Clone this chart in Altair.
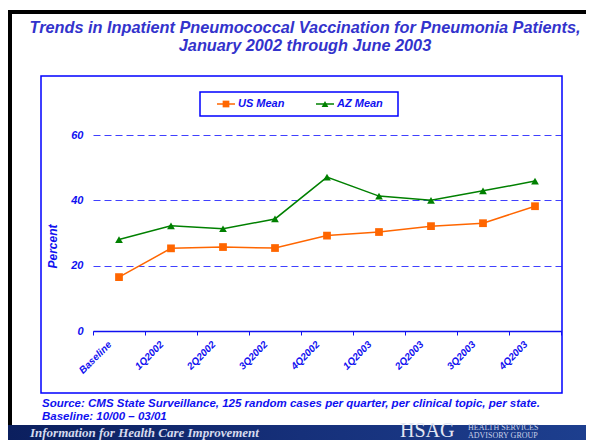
import altair as alt
import pandas as pd

periods = ["Baseline", "1Q2002", "2Q2002", "3Q2002", "4Q2002", "1Q2003", "2Q2003", "3Q2003", "4Q2003"]
series_names = ["US Mean", "AZ Mean"]
us_mean = [16.5, 25.3, 25.7, 25.4, 29.2, 30.3, 32.1, 33.0, 38.2]
az_mean = [28.0, 32.2, 31.3, 34.3, 47.1, 41.3, 40.0, 42.9, 45.9]
y_ticks = [0, 20, 40, 60]
title_lines = ["Trends in Inpatient Pneumococcal Vaccination for Pneumonia Patients,",
               "January 2002 through June 2003"]
source_lines = ["Source: CMS State Surveillance, 125 random cases per quarter, per clinical topic, per state.",
                "Baseline: 10/00 \u2013 03/01"]

colors = ["#ff6600", "#008000"]
shapes = ["square", "triangle-up"]
BLUE = "#1010f0"
TITLE_BLUE = "#3333cc"

df = pd.DataFrame({
    "period": periods * 2,
    "series": [series_names[0]] * len(periods) + [series_names[1]] * len(periods),
    "value": us_mean + az_mean,
})

one = pd.DataFrame({"a": [0]})

x_scale = alt.Scale(type="band", paddingInner=0, paddingOuter=0)
y_scale = alt.Scale(domain=[0, 60], nice=False, zero=True)

x_axis = alt.Axis(title=None, labelAngle=-45, labelAlign="right", labelBaseline="top",
                  labelFont="Liberation Sans", labelFontSize=10, labelFontStyle="italic",
                  labelFontWeight="bold", labelColor=BLUE, labelOffset=-13, labelPadding=4,
                  tickBand="extent", tickSize=4, tickColor=BLUE, domainColor=BLUE,
                  domainWidth=1.5, grid=False, zindex=1)
y_axis = alt.Axis(values=y_ticks, title="Percent", titleFont="Liberation Sans",
                  titleFontSize=12, titleFontStyle="italic", titleFontWeight="bold",
                  titleColor=BLUE, titleAngle=-90, titleX=-41, titleY=111,
                  titleAlign="center", titleBaseline="middle",
                  labelFont="Liberation Sans", labelFontSize=11, labelFontStyle="italic",
                  labelFontWeight="bold", labelColor=BLUE, labelPadding=10,
                  ticks=False, domain=False, grid=True, gridColor="#4040ff",
                  gridOpacity=1, gridDash=[7, 4], gridWidth=1.2, zindex=0)

x_enc = alt.X("period:N", sort=periods, scale=x_scale, axis=x_axis)
y_enc = alt.Y("value:Q", scale=y_scale, axis=y_axis)
color_enc = alt.Color("series:N", scale=alt.Scale(domain=series_names, range=colors), legend=None)
shape_enc = alt.Shape("series:N", scale=alt.Scale(domain=series_names, range=shapes), legend=None)

# slide border
border = alt.Chart(one).mark_rect(fill=None, stroke="black", strokeWidth=4).encode(
    x=alt.value(-83), x2=alt.value(520), y=alt.value(-123), y2=alt.value(300))

# chart frame
frame = alt.Chart(one).mark_rect(fill=None, stroke="#0000ff", strokeWidth=1.5).encode(
    x=alt.value(-52), x2=alt.value(469), y=alt.value(-59), y2=alt.value(258))

lines = alt.Chart(df).mark_line(strokeWidth=1.5).encode(x=x_enc, y=y_enc, color=color_enc, detail="series:N")
points = alt.Chart(df).mark_point(filled=True, opacity=1, size=60).encode(
    x=x_enc, y=y_enc, color=color_enc, shape=shape_enc)

layers = [border, frame, lines, points]

# title
for i, t in enumerate(title_lines):
    layers.append(alt.Chart(one).mark_text(text=t, font="Liberation Sans", fontSize=16.3, fontStyle="italic",
                                           fontWeight="bold", color=TITLE_BLUE, align="center",
                                           baseline="middle").encode(
        x=alt.value(212), y=alt.value(-107 + 18 * i)))

# legend
layers.append(alt.Chart(one).mark_rect(fill="white", stroke="#0000ff", strokeWidth=1.5).encode(
    x=alt.value(107), x2=alt.value(305), y=alt.value(-43), y2=alt.value(-19)))
leg_x = [124, 223]
for i, name in enumerate(series_names):
    lx = leg_x[i]
    layers.append(alt.Chart(one).mark_rule(color=colors[i], strokeWidth=1.5).encode(
        x=alt.value(lx), x2=alt.value(lx + 18), y=alt.value(-31)))
    layers.append(alt.Chart(one).mark_point(filled=True, opacity=1, size=45, shape=shapes[i],
                                            color=colors[i]).encode(
        x=alt.value(lx + 9), y=alt.value(-31)))
    layers.append(alt.Chart(one).mark_text(text=name, font="Liberation Sans", fontSize=11,
                                           fontStyle="italic", fontWeight="bold", color=BLUE,
                                           align="left", baseline="middle").encode(
        x=alt.value(lx + 21), y=alt.value(-31)))

# source
for i, t in enumerate(source_lines):
    layers.append(alt.Chart(one).mark_text(text=t, font="Liberation Sans", fontSize=11.5, fontStyle="italic",
                                           fontWeight="bold", color=BLUE, align="left",
                                           baseline="middle").encode(
        x=alt.value(-51), y=alt.value(269 + 13 * i)))

# banner
grad = alt.LinearGradient(gradient="linear", x1=0, x2=1, y1=0, y2=0,
                          stops=[alt.GradientStop(color="#0b1f5e", offset=0),
                                 alt.GradientStop(color="#16307a", offset=0.5),
                                 alt.GradientStop(color="#1d3f8f", offset=1)])
layers.append(alt.Chart(one).mark_rect(fill=grad, strokeWidth=0).encode(
    x=alt.value(-85), x2=alt.value(501), y=alt.value(290), y2=alt.value(320)))
layers.append(alt.Chart(one).mark_text(text="Information for Health Care Improvement",
                                       font="Liberation Serif", fontSize=13, fontStyle="italic",
                                       fontWeight="bold", color="#d6dbee", align="left",
                                       baseline="alphabetic").encode(
    x=alt.value(-63), y=alt.value(301.5)))
layers.append(alt.Chart(one).mark_text(text="HSAG", font="Liberation Serif", fontSize=20,
                                       color="#e2e6f2", align="left", baseline="alphabetic").encode(
    x=alt.value(307), y=alt.value(302)))
layers.append(alt.Chart(one).mark_text(text="HEALTH SERVICES", font="Liberation Serif", fontSize=8,
                                       color="#c8d0e8", align="left", baseline="alphabetic").encode(
    x=alt.value(375), y=alt.value(294.5)))
layers.append(alt.Chart(one).mark_text(text="ADVISORY GROUP", font="Liberation Serif", fontSize=8,
                                       color="#c8d0e8", align="left", baseline="alphabetic").encode(
    x=alt.value(375), y=alt.value(302.5)))

chart = alt.layer(*layers).properties(
    width=468, height=196,
    autosize=alt.AutoSizeParams(type="none"),
    padding={"left": 85, "top": 127, "right": 25, "bottom": 109},
).configure(background="white", view=alt.ViewConfig(stroke=None))

chart.save("out.html", embed_options={"renderer": "svg", "actions": False})
